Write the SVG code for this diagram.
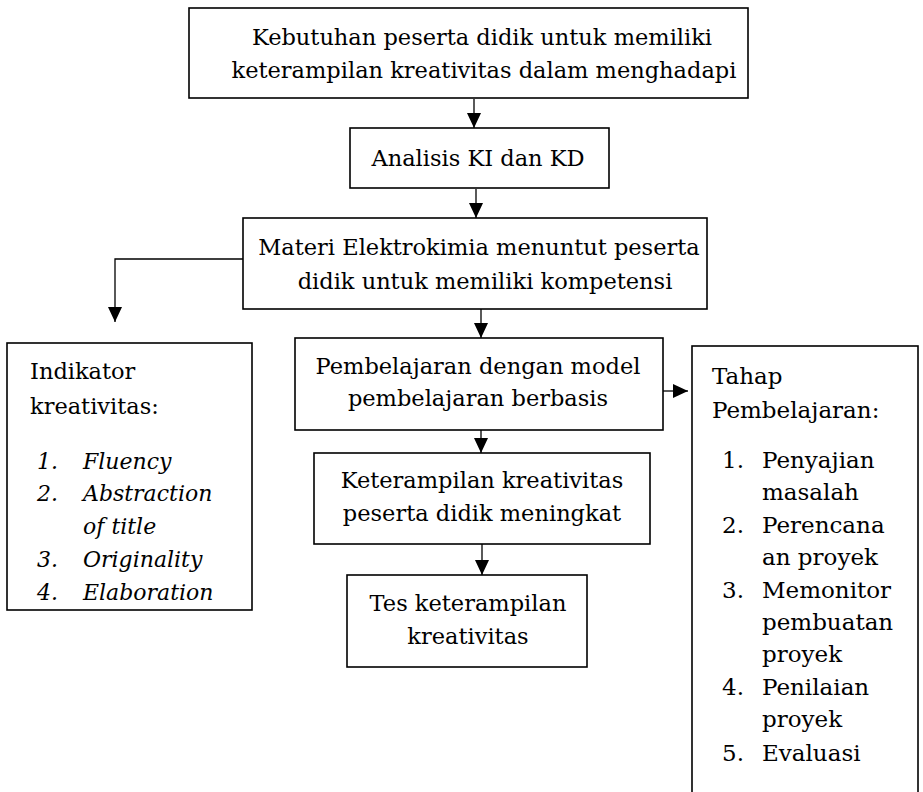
<svg xmlns="http://www.w3.org/2000/svg" width="923" height="792" viewBox="0 0 923 792">
<style>
.box{fill:#fff;stroke:#000;stroke-width:1.6}
.t{font-family:"DejaVu Serif","Liberation Serif",serif;font-size:22.5px;fill:#000}
.c{text-anchor:middle}
.i{font-style:italic;font-size:22px}
.r{font-size:23px}
.ln{fill:none;stroke:#000;stroke-width:1.3}
</style>
<defs>
<marker id="ah" markerUnits="userSpaceOnUse" markerWidth="16" markerHeight="16" viewBox="0 0 16 16" refX="15" refY="8" orient="auto">
<path d="M0,1 L15,8 L0,15 Z" fill="#000"/>
</marker>
</defs>
<rect width="923" height="792" fill="#fff"/>
<g id="connectors">
<line class="ln" x1="474" y1="99" x2="474" y2="128" marker-end="url(#ah)"/>
<line class="ln" x1="476" y1="189" x2="476" y2="218" marker-end="url(#ah)"/>
<line class="ln" x1="481" y1="309" x2="481" y2="338" marker-end="url(#ah)"/>
<line class="ln" x1="481" y1="430" x2="481" y2="453" marker-end="url(#ah)"/>
<line class="ln" x1="482" y1="543" x2="482" y2="575" marker-end="url(#ah)"/>
<path class="ln" d="M243,259 H115 V322" marker-end="url(#ah)"/>
<line class="ln" x1="657" y1="391" x2="688" y2="391" marker-end="url(#ah)"/>
</g>
<g id="n1">
<rect class="box" x="189" y="8" width="559" height="90" stroke-width="2"/>
<text class="t c" x="482" y="45">Kebutuhan peserta didik untuk memiliki</text>
<text class="t c" x="484" y="78">keterampilan kreativitas dalam menghadapi</text>
</g>
<g id="n2">
<rect class="box" x="350" y="128" width="259" height="60"/>
<text class="t c" x="478" y="166">Analisis KI dan KD</text>
</g>
<g id="n3">
<rect class="box" x="243" y="218" width="464" height="91"/>
<text class="t c" x="479" y="255">Materi Elektrokimia menuntut peserta</text>
<text class="t c" x="485" y="289">didik untuk memiliki kompetensi</text>
</g>
<g id="n4">
<rect class="box" x="7" y="343" width="245" height="267"/>
<text class="t" x="30" y="379">Indikator</text>
<text class="t" x="30" y="414">kreativitas:</text>
<g class="t i">
<text x="37" y="469">1.</text><text x="83" y="469">Fluency</text>
<text x="37" y="501">2.</text><text x="83" y="501">Abstraction</text>
<text x="83" y="534">of title</text>
<text x="37" y="567">3.</text><text x="83" y="567">Originality</text>
<text x="37" y="600">4.</text><text x="83" y="600">Elaboration</text>
</g>
</g>
<g id="n5">
<rect class="box" x="295" y="338" width="368" height="92"/>
<text class="t c" x="478" y="374">Pembelajaran dengan model</text>
<text class="t c" x="478" y="406">pembelajaran berbasis</text>
</g>
<g id="n6">
<rect class="box" x="692" y="346" width="226" height="460"/>
<g class="t r">
<text x="712" y="384">Tahap</text>
<text x="712" y="418">Pembelajaran:</text>
<text x="722" y="468">1.</text><text x="762" y="468">Penyajian</text>
<text x="762" y="500">masalah</text>
<text x="722" y="533">2.</text><text x="762" y="533">Perencana</text>
<text x="762" y="565">an proyek</text>
<text x="722" y="598">3.</text><text x="762" y="598">Memonitor</text>
<text x="762" y="630">pembuatan</text>
<text x="762" y="662">proyek</text>
<text x="722" y="695">4.</text><text x="762" y="695">Penilaian</text>
<text x="762" y="727">proyek</text>
<text x="722" y="761">5.</text><text x="762" y="761">Evaluasi</text>
</g>
</g>
<g id="n7">
<rect class="box" x="314" y="453" width="336" height="91"/>
<text class="t c" x="482" y="488">Keterampilan kreativitas</text>
<text class="t c" x="482" y="521">peserta didik meningkat</text>
</g>
<g id="n8">
<rect class="box" x="347" y="575" width="240" height="92"/>
<text class="t c" x="468" y="611">Tes keterampilan</text>
<text class="t c" x="468" y="644">kreativitas</text>
</g>
</svg>
